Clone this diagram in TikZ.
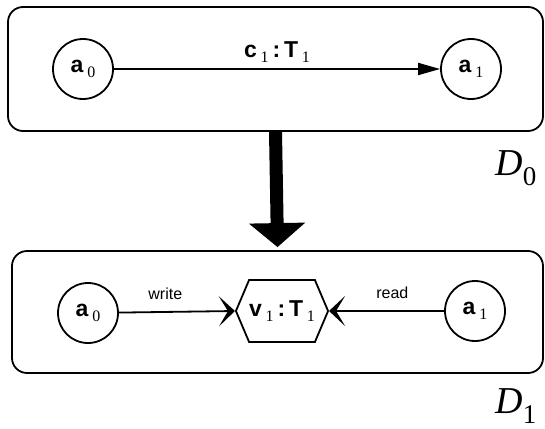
\documentclass[tikz,border=0pt]{standalone}
\usepackage{fontspec}
\setmainfont{Liberation Serif}
\setsansfont{Liberation Sans}
\usetikzlibrary{arrows.meta,positioning,shapes.symbols}

\newcommand{\boldlbl}[2]{{\sffamily\bfseries #1}\,\raisebox{-5pt}{\rmfamily\fontsize{16}{16}\selectfont #2}}
\newcommand{\dlbl}[1]{\textit{D}\raisebox{-10pt}{\fontsize{27}{27}\selectfont #1}}

\begin{document}
\begin{tikzpicture}[x=1pt, y=-1pt,
    every node/.style={inner sep=0pt, line width=1.8pt},
    diagram/.style={rectangle, rounded corners=15pt, draw},
    actor/.style={circle, draw, minimum size=60pt, font=\fontsize{23}{25}\selectfont},
    varbox/.style={signal, signal to=west and east, signal pointer angle=134, draw,
        minimum width=87pt, minimum height=62pt, font=\fontsize{23}{25}\selectfont},
    access/.style={font=\sffamily\fontsize{16}{18}\selectfont}
]
    \useasboundingbox (0,0) rectangle (545,428);

    % D0
    \node (d0_box) [diagram, minimum width=535pt, minimum height=124pt, shift={(275.5, 69)}] {};
    \node (d0_a0) [actor, shift={(83, 69)}]
    {
        \boldlbl{a}{0}
    };
    \node (d0_a1) [actor, shift={(471, 69)}]
    {
        \boldlbl{a}{1}
    };
    \node (d0_name) [shift={(516, 168)}]
    {
        \fontsize{38}{44}\selectfont\dlbl{0}
    };

    % D1
    \node (d1_box) [diagram, minimum width=531pt, minimum height=122pt, shift={(277.5, 312)}] {};
    \node (d1_a0) [actor, shift={(88, 313)}]
    {
        \boldlbl{a}{0}
    };
    \node (d1_v1) [varbox, shift={(282, 311)}]
    {
        \boldlbl{v}{1}\,{\sffamily\bfseries:}\,\boldlbl{T}{1}
    };
    \node (d1_a1) [actor, shift={(475, 311)}]
    {
        \boldlbl{a}{1}
    };
    \node (d1_name) [shift={(516, 406)}]
    {
        \fontsize{38}{44}\selectfont\dlbl{1}
    };

    \draw[-{Triangle[length=22pt, width=12pt]}, line width=1.8pt] (d0_a0) to
        node[above=6pt, font=\fontsize{23}{25}\selectfont] {\boldlbl{c}{1}\,{\sffamily\bfseries:}\,\boldlbl{T}{1}} (d0_a1);

    \draw[-{Triangle[length=24pt, width=55pt]}, line width=13pt] (d0_box.south) to ([yshift=3pt]d1_box.north);

    \draw[-{Stealth[length=16pt, width=30pt, inset=9pt]}, line width=1.8pt] (d1_a0) to
        node[pos=0.4, above=11pt, access] {write} (d1_v1.west);
    \draw[-{Stealth[length=16pt, width=30pt, inset=9pt]}, line width=1.8pt] (d1_a1) to
        node[pos=0.45, above=11pt, access] {read} (d1_v1.east);
\end{tikzpicture}
\end{document}
